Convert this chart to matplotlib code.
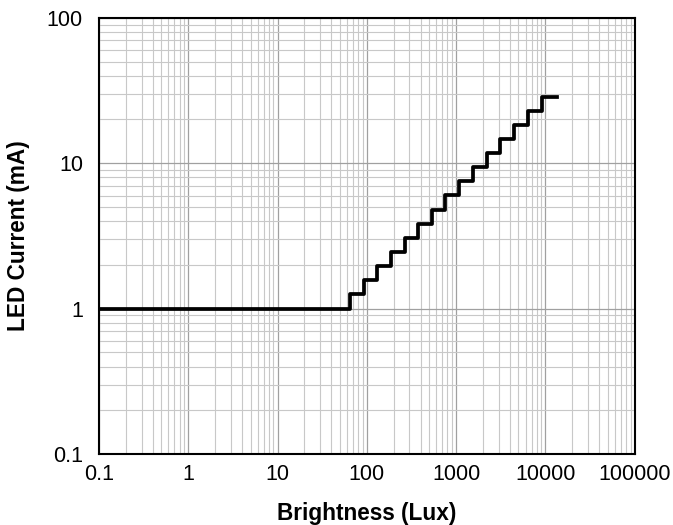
import matplotlib
matplotlib.use('Agg')
import matplotlib.pyplot as plt
from matplotlib.ticker import LogLocator, NullFormatter

plt.rcParams['font.family'] = ['Liberation Sans', 'DejaVu Sans']

# step edges (Lux) and LED current levels (mA)
brightness = [0.1, 65, 92, 130, 186, 265, 374, 533, 759, 1084, 1547,
              2205, 3142, 4470, 6400, 9115, 13400]
current = [1.0, 1.256, 1.57, 1.97, 2.45, 3.06, 3.83, 4.79, 6.01, 7.51,
           9.38, 11.7, 14.7, 18.3, 22.9, 28.6]

x_ticks = [0.1, 1, 10, 100, 1000, 10000, 100000]
x_labels = ['0.1', '1', '10', '100', '1000', '10000', '100000']
y_ticks = [0.1, 1, 10, 100]
y_labels = ['0.1', '1', '10', '100']

fig = plt.figure(figsize=(6.73, 5.25), dpi=100)
ax = fig.add_axes([0.147, 0.135, 0.796, 0.831])

ax.step(brightness, current + [current[-1]], where='post', color='black', linewidth=2.7)

ax.set_xscale('log')
ax.set_yscale('log')
ax.set_xlim(0.1, 100000)
ax.set_ylim(0.1, 100)
ax.set_xticks(x_ticks)
ax.set_xticklabels(x_labels)
ax.set_yticks(y_ticks)
ax.set_yticklabels(y_labels)
ax.xaxis.set_minor_locator(LogLocator(base=10, subs=range(2, 10), numticks=20))
ax.yaxis.set_minor_locator(LogLocator(base=10, subs=range(2, 10), numticks=20))
ax.xaxis.set_minor_formatter(NullFormatter())
ax.yaxis.set_minor_formatter(NullFormatter())

ax.grid(which='major', color='#a0a0a0', linewidth=0.9)
ax.grid(which='minor', color='#c8c8c8', linewidth=0.8)
ax.set_axisbelow(True)
ax.tick_params(which='both', length=0, labelsize=15.5)
ax.tick_params(axis='x', pad=7)
ax.tick_params(axis='y', pad=11.5)
for lbl in ax.get_yticklabels():
    lbl.set_verticalalignment('center_baseline')
for s in ax.spines.values():
    s.set_linewidth(1.5)
    s.set_color('black')

ax.set_xlabel('Brightness (Lux)', fontsize=16.3, fontweight='bold', labelpad=12)
ax.set_ylabel('LED Current (mA)', fontsize=16.3, fontweight='bold', labelpad=12)

fig.savefig('out.png', dpi=100)
